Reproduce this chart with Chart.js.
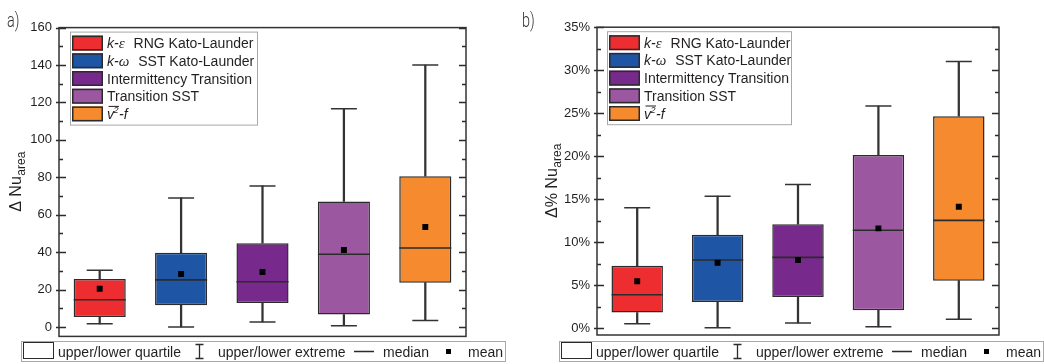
<!DOCTYPE html>
<html>
<head>
<meta charset="utf-8">
<script src="https://cdn.jsdelivr.net/npm/chart.js@4"></script>
<style>
  html, body { margin: 0; padding: 0; background: #fff; }
  #wrap { position: relative; width: 1044px; height: 364px; overflow: hidden; }
  #wrap canvas { position: absolute; top: 0; }
</style>
</head>
<body>
<div id="wrap">
  <canvas id="chartA" width="522" height="364" style="left:0"></canvas>
  <canvas id="chartB" width="522" height="364" style="left:522px"></canvas>
</div>
<script>
// Turbulence models compared
const categories = ['k-ε RNG Kato-Launder', 'k-ω SST Kato-Launder', 'Intermittency Transition', 'Transition SST', 'v²-f'];
const boxColors = ['#ED2D2F', '#1F55A5', '#772A8B', '#9C57A1', '#F58A2E'];

// a) absolute deviation of area-averaged Nusselt number
const absMin    = [1.7, 0.0, 2.7, 0.7, 3.5];
const absQ1     = [5.4, 11.6, 12.8, 6.7, 23.7];
const absMedian = [14.6, 25.2, 24.2, 38.9, 42.2];
const absQ3     = [25.7, 39.7, 44.8, 67.1, 80.6];
const absMax    = [30.3, 69.0, 75.4, 116.6, 140.0];
const absMean   = [20.5, 28.3, 29.4, 41.2, 53.5];
const absTicks  = [0, 20, 40, 60, 80, 100, 120, 140, 160];

// b) relative deviation, in percent
const relMin    = [0.52, 0.04, 0.60, 0.15, 1.04];
const relQ1     = [1.82, 3.04, 3.63, 2.08, 5.52];
const relMedian = [3.89, 7.93, 8.23, 11.38, 12.53];
const relQ3     = [7.26, 10.86, 12.08, 20.13, 24.65];
const relMax    = [14.00, 15.35, 16.70, 25.83, 31.02];
const relMean   = [5.45, 7.60, 7.93, 11.60, 14.12];
const relTicks  = [0, 5, 10, 15, 20, 25, 30, 35];

// key entries below each panel
const keyLabels = ['upper/lower quartile', 'upper/lower extreme', 'median', 'mean'];

const FONT = '"Liberation Sans", Arial, sans-serif';
const INK = '#231f20';
const LINE = '#2b2b2b';

function drawCategoryLabel(ctx, label, x, y) {
  ctx.fillStyle = INK;
  ctx.textAlign = 'left';
  ctx.textBaseline = 'alphabetic';
  const k = label.match(/^k-(\S)\s+(.*)$/);
  if (k) {
    ctx.font = 'italic 14px ' + FONT;
    ctx.fillText('k-', x, y);
    let cx = x + ctx.measureText('k-').width;
    ctx.font = 'italic 15px "Liberation Serif", serif';
    ctx.fillText(k[1], cx, y);
    cx += ctx.measureText(k[1]).width + 9;
    ctx.font = '14px ' + FONT;
    ctx.fillText(k[2], cx, y);
    return;
  }
  const v = label.match(/^(\w)²(.*)$/);
  if (v) {
    ctx.font = 'italic 14px ' + FONT;
    ctx.fillText(v[1], x, y);
    const w = ctx.measureText(v[1]).width;
    ctx.font = 'italic 9px ' + FONT;
    ctx.fillText('2', x + w - 0.5, y - 6);
    const w2 = ctx.measureText('2').width;
    ctx.font = 'italic 14px ' + FONT;
    ctx.fillText(v[2], x + w + w2, y);
    ctx.strokeStyle = INK;
    ctx.lineWidth = 1;
    ctx.beginPath();
    ctx.moveTo(x + 1.5, y - 12.5);
    ctx.lineTo(x + w + w2, y - 12.5);
    ctx.stroke();
    return;
  }
  ctx.font = '14px ' + FONT;
  ctx.fillText(label, x, y);
}

const panelPlugin = {
  id: 'panel',
  afterDraw(chart, args, o) {
    const ctx = chart.ctx;
    const a = chart.chartArea;
    const y = chart.scales.y;
    ctx.save();

    // minor / major ticks on both vertical sides
    ctx.strokeStyle = LINE;
    ctx.lineWidth = 1.3;
    const t = o.ticks;
    const step = t[1] - t[0];
    ctx.beginPath();
    t.forEach(v => {
      const py = Math.round(y.getPixelForValue(v)) + 0.5;
      ctx.moveTo(a.left - 3, py); ctx.lineTo(a.left + 7, py);
      ctx.moveTo(a.right - 7, py); ctx.lineTo(a.right, py);
      const mv = v + step / 2;
      if (mv < t[t.length - 1]) {
        const my = Math.round(y.getPixelForValue(mv)) + 0.5;
        ctx.moveTo(a.left, my); ctx.lineTo(a.left + 4, my);
        ctx.moveTo(a.right - 4, my); ctx.lineTo(a.right, my);
      }
    });
    ctx.stroke();

    // plot frame
    ctx.lineWidth = 1.5;
    ctx.strokeStyle = '#333';
    ctx.strokeRect(a.left, a.top, a.right - a.left, a.bottom - a.top);

    // category legend inside the plot
    const lx = a.left + o.legendDx, ly = a.top + 4;
    ctx.fillStyle = '#fff';
    ctx.fillRect(lx, ly, o.legendW, 93);
    ctx.strokeStyle = '#a8a8a8';
    ctx.lineWidth = 1;
    ctx.strokeRect(lx + 0.5, ly + 0.5, o.legendW, 93);
    categories.forEach((c, i) => {
      const ry = ly + 4 + i * 17.7;
      ctx.fillStyle = boxColors[i];
      ctx.fillRect(lx + 2, ry, 31, 15);
      ctx.strokeStyle = LINE;
      ctx.lineWidth = 1.5;
      ctx.strokeRect(lx + 2.75, ry + 0.75, 29.5, 13.5);
      drawCategoryLabel(ctx, c, lx + 37, ry + 12.5);
    });

    // y-axis title with subscript
    ctx.save();
    const tx = a.left + o.titleDx;
    const cy = (a.top + a.bottom) / 2;
    ctx.font = '16px ' + FONT;
    const mw = ctx.measureText(o.title[0]).width;
    ctx.font = '12px ' + FONT;
    const sw = ctx.measureText(o.title[1]).width;
    ctx.translate(tx, cy + (mw + sw) / 2);
    ctx.rotate(-Math.PI / 2);
    ctx.fillStyle = INK;
    ctx.textAlign = 'left';
    ctx.textBaseline = 'alphabetic';
    ctx.font = '16px ' + FONT;
    ctx.fillText(o.title[0], 0, 0);
    ctx.font = '12px ' + FONT;
    ctx.fillText(o.title[1], mw + 0.5, 3.5);
    ctx.restore();

    // panel letter
    ctx.save();
    ctx.fillStyle = '#333';
    ctx.font = '300 20px Roboto, "DejaVu Sans", sans-serif';
    ctx.translate(o.letterX, 27);
    ctx.scale(0.72, 1);
    ctx.fillText(o.letter, 0, 0);
    ctx.restore();

    // box-plot key below the plot
    const bx = a.left - 38;
    const by = 341;
    ctx.strokeStyle = '#a8a8a8';
    ctx.lineWidth = 1;
    ctx.strokeRect(bx + 0.5, by + 0.5, 484, 20);
    ctx.strokeStyle = LINE;
    ctx.strokeRect(bx + 2.5, by + 1.5, 30, 16);
    ctx.fillStyle = INK;
    ctx.font = '14px ' + FONT;
    ctx.textBaseline = 'alphabetic';
    const base = by + 15.5;
    ctx.fillText(keyLabels[0], bx + 37, base);
    ctx.lineWidth = 1.3;
    ctx.beginPath();
    const wx = bx + 178.5;
    ctx.moveTo(wx, by + 3); ctx.lineTo(wx, by + 18);
    ctx.moveTo(wx - 4, by + 3.5); ctx.lineTo(wx + 4, by + 3.5);
    ctx.moveTo(wx - 4, by + 17.5); ctx.lineTo(wx + 4, by + 17.5);
    ctx.moveTo(bx + 333, by + 10.5); ctx.lineTo(bx + 353, by + 10.5);
    ctx.stroke();
    ctx.fillText(keyLabels[1], bx + 197, base);
    ctx.fillText(keyLabels[2], bx + 362, base);
    ctx.fillStyle = '#000';
    ctx.fillRect(bx + 425, by + 8, 5, 5);
    ctx.fillStyle = INK;
    ctx.fillText(keyLabels[3], bx + 447, base);

    ctx.restore();
  }
};

function buildChart(canvas, s) {
  const pairs = (lo, hi) => lo.map((v, i) => [v, hi[i]]);
  const whisker = {
    type: 'bar', backgroundColor: '#333', borderWidth: 0,
    barThickness: 1.6, grouped: false
  };
  const cap = {
    type: 'line', showLine: false, pointStyle: 'line',
    pointRadius: 13, pointBorderColor: '#333', pointBorderWidth: 1.5
  };
  return new Chart(canvas, {
    type: 'bar',
    data: {
      labels: categories,
      datasets: [
        { type: 'line', data: s.mean, showLine: false, pointStyle: 'rect',
          pointRadius: 4.2, pointBackgroundColor: '#000', pointBorderWidth: 0 },
        { type: 'line', data: s.median, showLine: false, pointStyle: 'line',
          pointRadius: s.halfBox, pointBorderColor: LINE, pointBorderWidth: 1.6 },
        Object.assign({ data: s.max }, cap),
        Object.assign({ data: s.min }, cap),
        { type: 'bar', data: pairs(s.q1, s.q3), backgroundColor: boxColors,
          borderColor: LINE, borderWidth: 1.5, borderSkipped: false,
          grouped: false, barPercentage: 0.64, categoryPercentage: 1 },
        Object.assign({ data: pairs(s.q3, s.max) }, whisker),
        Object.assign({ data: pairs(s.min, s.q1) }, whisker)
      ]
    },
    options: {
      responsive: false,
      animation: false,
      events: [],
      layout: { padding: s.padding },
      plugins: {
        legend: { display: false },
        tooltip: { enabled: false },
        panel: s.panel
      },
      scales: {
        x: { type: 'category', offset: true, display: false },
        y: {
          type: 'linear', min: s.min0, max: s.max0,
          afterFit(sc) { sc.width = 50; sc.paddingTop = 0; sc.paddingBottom = 0; },
          afterBuildTicks(sc) { sc.ticks = s.ticks.map(v => ({ value: v })); },
          grid: { display: false, drawTicks: false },
          border: { display: false },
          ticks: {
            padding: 7, autoSkip: false, color: INK,
            font: { family: FONT, size: 13 },
            callback: s.format
          }
        }
      }
    },
    plugins: [panelPlugin]
  });
}

buildChart(document.getElementById('chartA'), {
  min: absMin, q1: absQ1, median: absMedian, q3: absQ3, max: absMax, mean: absMean,
  ticks: absTicks, min0: -5, max0: 160, halfBox: 26,
  format: v => String(v),
  padding: { left: 9, right: 56, top: 10, bottom: 27 },
  panel: { ticks: absTicks, legendDx: 11, legendW: 187, titleDx: -38,
           title: ['Δ Nu', 'area'], letter: 'a)', letterX: 7 }
});

buildChart(document.getElementById('chartB'), {
  min: relMin, q1: relQ1, median: relMedian, q3: relQ3, max: relMax, mean: relMean,
  ticks: relTicks, min0: -0.8, max0: 35, halfBox: 25.6,
  format: v => v + '%',
  padding: { left: 25, right: 45, top: 13, bottom: 29 },
  panel: { ticks: relTicks, legendDx: 10, legendW: 184, titleDx: -40,
           title: ['Δ% Nu', 'area'], letter: 'b)', letterX: 0 }
});
</script>
</body>
</html>
